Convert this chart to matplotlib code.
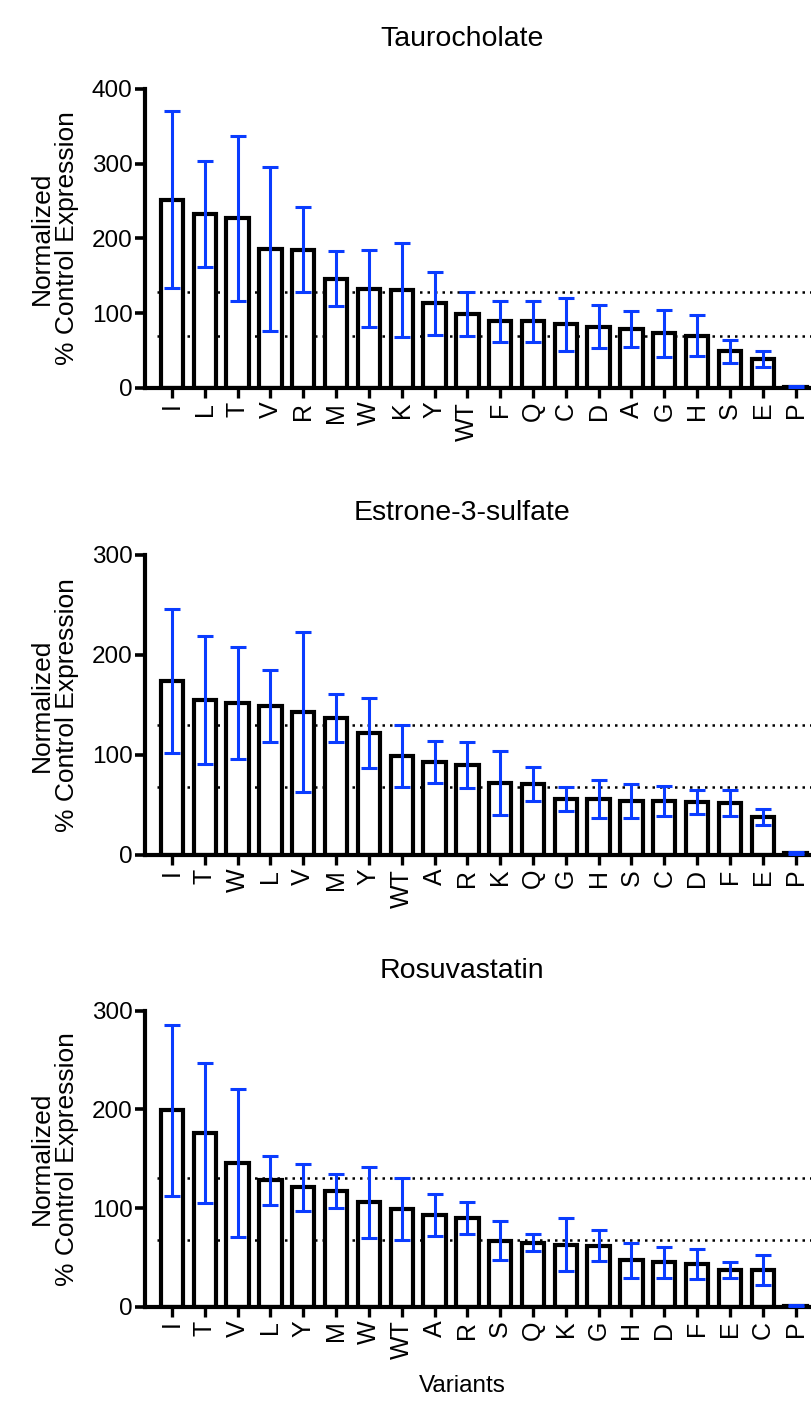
import numpy as np
import matplotlib
matplotlib.use("Agg")
import matplotlib.pyplot as plt

plt.rcParams['font.family'] = ['Liberation Sans', 'DejaVu Sans']

# Taurocholate
variants_tc = ['I', 'L', 'T', 'V', 'R', 'M', 'W', 'K', 'Y', 'WT',
               'F', 'Q', 'C', 'D', 'A', 'G', 'H', 'S', 'E', 'P']
mean_tc = [252, 233, 227, 186, 185, 146, 133, 131, 113, 99,
           89, 89, 85, 82, 79, 73, 70, 49, 39, 1]
sd_tc = [118, 71, 110, 110, 57, 37, 52, 63, 42, 29,
         27, 27, 35, 29, 24, 31, 27, 15, 11, 2]

# Estrone-3-sulfate
variants_es = ['I', 'T', 'W', 'L', 'V', 'M', 'Y', 'WT', 'A', 'R',
               'K', 'Q', 'G', 'H', 'S', 'C', 'D', 'F', 'E', 'P']
mean_es = [174, 155, 152, 149, 143, 137, 122, 99, 93, 90,
           72, 71, 56, 56, 54, 54, 53, 52, 38, 2]
sd_es = [72, 64, 56, 36, 80, 24, 35, 31, 21, 23,
         32, 17, 12, 19, 17, 15, 12, 13, 8, 1]

# Rosuvastatin
variants_rs = ['I', 'T', 'V', 'L', 'Y', 'M', 'W', 'WT', 'A', 'R',
               'S', 'Q', 'K', 'G', 'H', 'D', 'F', 'E', 'C', 'P']
mean_rs = [199, 176, 146, 128, 121, 117, 106, 99, 93, 90,
           67, 65, 63, 62, 47, 45, 43, 37, 37, 1]
sd_rs = [87, 71, 75, 25, 24, 17, 36, 31, 21, 16,
         20, 9, 27, 16, 18, 16, 15, 8, 15, 1]

ERR_COLOR = '#0a3cff'


def plot_panel(ax, names, mean, sd, ymax):
    x = np.arange(len(names))
    ax.bar(x, mean, width=0.68, color='white', edgecolor='black',
           linewidth=3.0, zorder=2)
    ax.errorbar(x, mean, yerr=sd, fmt='none', ecolor=ERR_COLOR,
                elinewidth=2.2, capsize=5.5, capthick=2.2, zorder=3)
    # dotted lines = WT mean +/- SD
    wt = names.index('WT')
    for yy in [mean[wt] + sd[wt], mean[wt] - sd[wt]]:
        ax.hlines(yy, -0.45, len(names) - 0.5, colors='black',
                  linestyles=(0, (1, 2.0)), linewidth=1.8, zorder=1)
    ax.set_xlim(-0.82, len(names) - 0.5)
    ax.set_ylim(0, ymax)
    ax.set_yticks(np.arange(0, ymax + 1, 100))
    ax.set_xticks(x)
    ax.set_xticklabels(names, rotation=90, fontsize=18)
    ax.tick_params(axis='y', labelsize=17.5, width=2.6, length=7, pad=2)
    ax.tick_params(axis='x', width=2.4, length=7, pad=3)
    for side in ['top', 'right']:
        ax.spines[side].set_visible(False)
    for side in ['left', 'bottom']:
        ax.spines[side].set_linewidth(3.0)
    ax.set_ylabel('Normalized\n% Control Expression', fontsize=19,
                  labelpad=9, linespacing=1.05)


fig = plt.figure(figsize=(8.12, 14.16), dpi=100)
ax1 = fig.add_axes([0.1786, 0.7260, 0.8214, 0.2112])
ax2 = fig.add_axes([0.1786, 0.3962, 0.8214, 0.2119])
ax3 = fig.add_axes([0.1786, 0.0772, 0.8214, 0.2090])

plot_panel(ax1, variants_tc, mean_tc, sd_tc, 400)
plot_panel(ax2, variants_es, mean_es, sd_es, 300)
plot_panel(ax3, variants_rs, mean_rs, sd_rs, 300)

fig.text(0.569, 0.9725, 'Taurocholate', ha='center', va='center', fontsize=20.5)
fig.text(0.569, 0.638, 'Estrone-3-sulfate', ha='center', va='center', fontsize=20.5)
fig.text(0.569, 0.3145, 'Rosuvastatin', ha='center', va='center', fontsize=20.5)
fig.text(0.569, 0.0212, 'Variants', ha='center', va='center', fontsize=17.5)

fig.savefig('out.png', dpi=100)
